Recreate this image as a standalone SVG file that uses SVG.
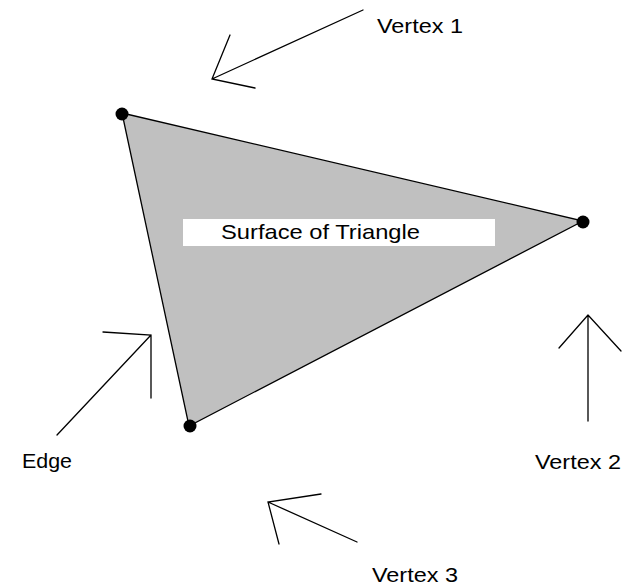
<svg xmlns="http://www.w3.org/2000/svg" width="629" height="585" viewBox="0 0 629 585">
<style>
.ln{stroke:#000;stroke-width:1.3;fill:none;stroke-linecap:round}
.lbl{font-family:"Liberation Sans",Arial,sans-serif;font-size:21px;fill:#000}
.dot{fill:#000}
</style>
<rect width="629" height="585" fill="#fff"/>
<g id="triangle">
<polygon points="122,113 583,221 189,426" fill="#c0c0c0" stroke="#000" stroke-width="1.3"/>
<rect x="183" y="219" width="312" height="27" fill="#fff"/>
<text class="lbl" x="221" y="239" textLength="199" lengthAdjust="spacingAndGlyphs">Surface of Triangle</text>
</g>
<g id="vertex1-node"><circle class="dot" cx="122" cy="114" r="6.5"/></g>
<g id="vertex2-node"><circle class="dot" cx="583" cy="222" r="6.5"/></g>
<g id="vertex3-node"><circle class="dot" cx="190" cy="426" r="6.5"/></g>
<g id="labels">
<text class="lbl" x="377" y="33" textLength="86" lengthAdjust="spacingAndGlyphs">Vertex 1</text>
<text class="lbl" x="535" y="469" textLength="86" lengthAdjust="spacingAndGlyphs">Vertex 2</text>
<text class="lbl" x="372" y="582" textLength="86" lengthAdjust="spacingAndGlyphs">Vertex 3</text>
<text class="lbl" x="22" y="468" textLength="50" lengthAdjust="spacingAndGlyphs">Edge</text>
</g>
<g id="connectors">
<path class="ln" d="M363,10 L212,79 M230,35 L212,79 L255,88"/>
<path class="ln" d="M588,421 L588,315 M559,348 L588,315 L621,351"/>
<path class="ln" d="M357,542 L268,502 M321,494 L268,502 L279,544"/>
<path class="ln" d="M57,435 L151,335 M103,332 L151,335 L151,398"/>
</g>
</svg>
